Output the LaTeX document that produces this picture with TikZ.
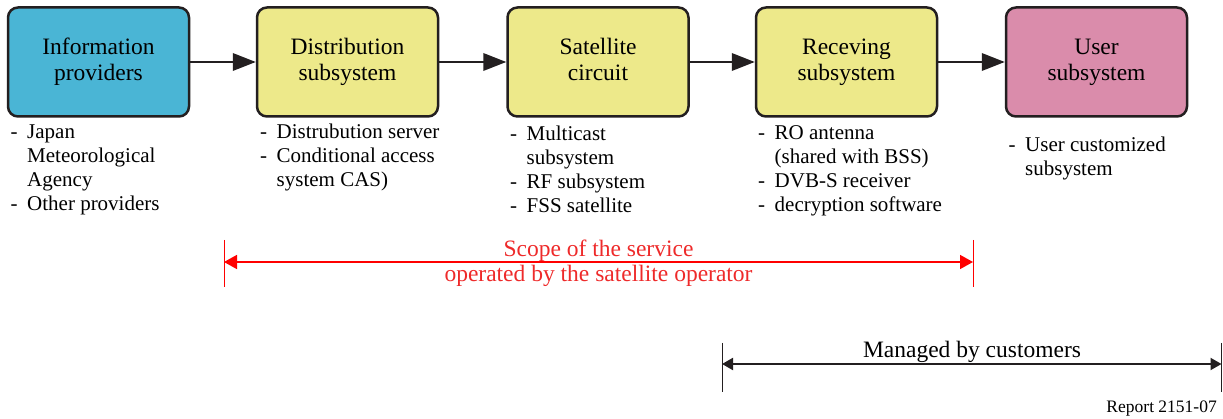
\documentclass[tikz,border=0pt]{standalone}
\usepackage{fontspec}
\setmainfont{Liberation Serif}
\usetikzlibrary{arrows.meta}

\definecolor{provblue}{HTML}{4AB5D5}
\definecolor{subyellow}{HTML}{EDE98A}
\definecolor{userpink}{HTML}{DA8CAB}
\definecolor{edgegray}{HTML}{231F20}
\definecolor{scopered}{HTML}{FF0000}
\definecolor{scopetext}{HTML}{EE2A2A}

% list items: a hyphen, then the text with a hanging indent
\newcommand\dashitem[1]{\hbox{\makebox[16.5pt][l]{-}#1}}
\newcommand\contitem[1]{\hbox{\hspace*{16.5pt}#1}}
\newcommand\itemlist[1]{\vtop{\baselineskip=24pt #1}}
\newcommand\twolines[2]{\begin{tabular}{@{}c@{}}#1\\#2\end{tabular}}

\begin{document}
\begin{tikzpicture}[x=1pt,y=-1pt,
  blockbox/.style={draw=edgegray, line width=2.5pt, rounded corners=10pt,
    minimum width=181pt, minimum height=109pt, inner sep=0pt,
    font=\fontsize{23.5}{26}\selectfont},
  flow/.style={draw=edgegray, line width=2pt,
    -{Triangle[length=23pt,width=17.5pt]}},
  listtext/.style={anchor=base west, inner sep=0pt,
    font=\fontsize{21}{24}\selectfont},
  scopetick/.style={draw=scopered, line width=1pt},
  scopearrow/.style={draw=scopered, line width=1.6pt,
    {Triangle[length=13pt,width=14pt]}-{Triangle[length=13pt,width=14pt]}},
  custtick/.style={draw=edgegray, line width=0.8pt},
  custarrow/.style={draw=edgegray, line width=2pt,
    {Triangle[length=11pt,width=12pt]}-{Triangle[length=11pt,width=12pt]}},
  bigtext/.style={inner sep=0pt, font=\fontsize{23.5}{25}\selectfont}
]
\useasboundingbox (0,0) rectangle (1223,419);

% processing chain
\node[blockbox, fill=provblue]   (info) at (98.5,62)  {\twolines{Information}{providers}};
\node[blockbox, fill=subyellow]  (dist) at (347.5,62) {\twolines{Distribution}{subsystem}};
\node[blockbox, fill=subyellow]  (sat)  at (598,62)   {\twolines{Satellite}{circuit}};
\node[blockbox, fill=subyellow]  (recv) at (846.5,62) {\twolines{Receving}{subsystem}};
\node[blockbox, fill=userpink]   (user) at (1096.5,62){\twolines{User}{subsystem}};

\draw[flow] (info) -- (dist);
\draw[flow] (dist) -- (sat);
\draw[flow] (sat)  -- (recv);
\draw[flow] (recv) -- (user);

% component lists under each block
\node[listtext] (infolist) at (10.5,139) {\itemlist{\dashitem{Japan}\contitem{Meteorological}\contitem{Agency}\dashitem{Other providers}}};
\node[listtext] (distlist) at (260,139) {\itemlist{\dashitem{Distrubution server}\dashitem{Conditional access}\contitem{system CAS)}}};
\node[listtext] (satlist) at (510,141) {\itemlist{\dashitem{Multicast}\contitem{subsystem}\dashitem{RF subsystem}\dashitem{FSS satellite}}};
\node[listtext] (recvlist) at (758,140) {\itemlist{\dashitem{RO antenna}\contitem{(shared with BSS)}\dashitem{DVB-S receiver}\dashitem{decryption software}}};
\node[listtext] (userlist) at (1008.5,152) {\itemlist{\dashitem{User customized}\contitem{subsystem}}};

% scope of the satellite operator's service
\coordinate (sl) at (224,262);
\coordinate (sr) at (973,262);
\draw[scopetick] (224,240) -- (224,287);
\draw[scopetick] (973,240) -- (973,287);
\draw[scopearrow] (sl) -- (sr);
\node[bigtext, anchor=base, text=scopetext] (scope) at (598.5,257)
  {\begin{tabular}[t]{@{}c@{}}Scope of the service\\operated by the satellite operator\end{tabular}};

% part managed by customers
\coordinate (cl) at (722,364);
\coordinate (cr) at (1221.5,364);
\draw[custtick] (722,343) -- (722,392);
\draw[custtick] (1221.8,343) -- (1221.8,392);
\draw[custarrow] (cl) -- (cr);
\node[bigtext, anchor=base] (cust) at (972,357) {Managed by customers};

\node[inner sep=0pt, anchor=base east, font=\fontsize{17.5}{20}\selectfont] (report) at (1217,412) {Report 2151-07};
\end{tikzpicture}
\end{document}
